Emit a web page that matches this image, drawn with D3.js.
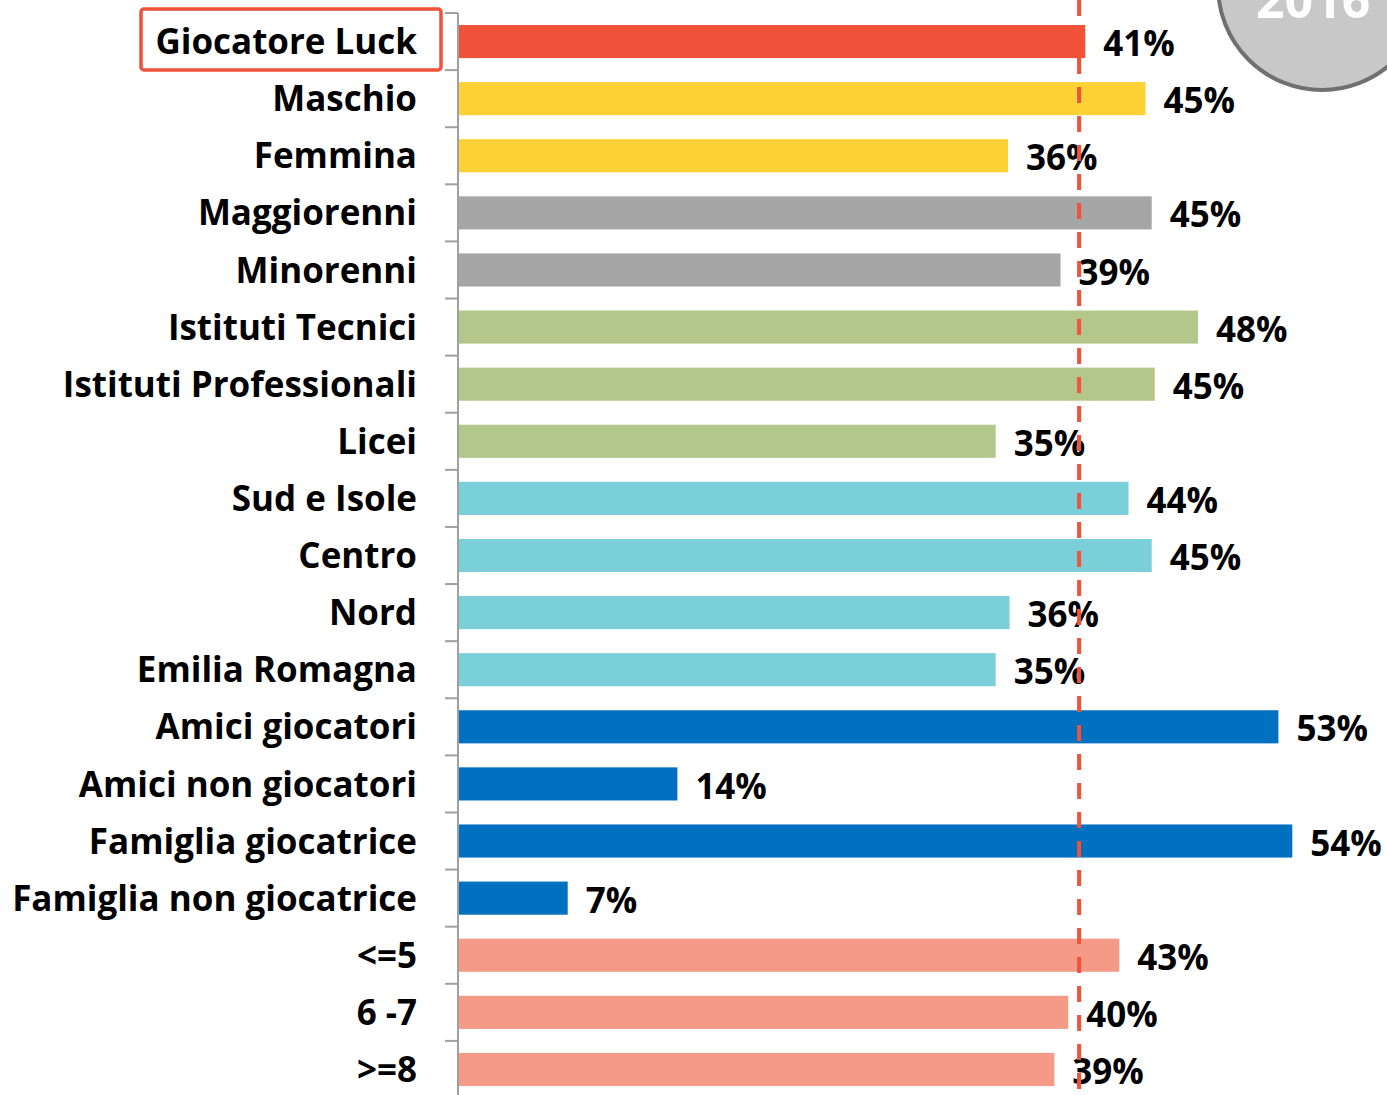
<!DOCTYPE html>
<head>
<meta charset="utf-8">
<style>
body { margin: 0; background: #fff; }
.cat text, .val { font-family: "Open Sans", sans-serif; font-weight: bold; fill: #000; font-variant-ligatures: none; }
</style>
</head>
<body>
<svg width="1387" height="1095"></svg>
<script src="https://cdn.jsdelivr.net/npm/d3@7/dist/d3.min.js"></script>
<script>

var categories = ["Giocatore Luck", "Maschio", "Femmina", "Maggiorenni", "Minorenni",
  "Istituti Tecnici", "Istituti Professionali", "Licei", "Sud e Isole", "Centro", "Nord",
  "Emilia Romagna", "Amici giocatori", "Amici non giocatori", "Famiglia giocatrice",
  "Famiglia non giocatrice", "<=5", "6 -7", ">=8"];
var values = [40.6, 44.5, 35.6, 44.9, 39.0, 47.9, 45.1, 34.8, 43.4, 44.9, 35.7, 34.8,
  53.1, 14.2, 54.0, 7.1, 42.8, 39.5, 38.6];
var labels = ["41%", "45%", "36%", "45%", "39%", "48%", "45%", "35%", "44%", "45%", "36%",
  "35%", "53%", "14%", "54%", "7%", "43%", "40%", "39%"];
var groups = [0, 1, 1, 2, 2, 3, 3, 3, 4, 4, 4, 4, 5, 5, 5, 5, 6, 6, 6];
var colors = ["#f0533a", "#fed136", "#a6a6a6", "#b3c78b", "#7acfd9", "#0070c0", "#f49a86"];
var average = 40.2;
var year = "2016";

var svg = d3.select("svg");

var x = d3.scaleLinear().domain([0, 10]).range([458, 612.5]);
var y = d3.scaleBand().domain(categories).range([13, 1098]).paddingInner(0.42).paddingOuter(0.21);

// badge in the corner
svg.append("circle")
    .attr("cx", 1322).attr("cy", -14).attr("r", 104)
    .attr("fill", "#c8c8c8").attr("stroke", "#707070").attr("stroke-width", 4);
svg.append("text")
    .attr("x", 1256).attr("y", 18)
    .style("font", "bold 50px 'Open Sans', sans-serif").attr("fill", "#fff")
    .text(year);

// bars
svg.selectAll(".bar")
    .data(categories)
  .enter().append("rect")
    .attr("class", "bar")
    .attr("x", x(0) + 1)
    .attr("y", function(d) { return y(d); })
    .attr("height", y.bandwidth())
    .attr("width", function(d, i) { return x(values[i]) - x(0) - 1; })
    .attr("fill", function(d, i) { return colors[groups[i]]; });

// axis with ticks between categories
var step = y.step();
var bounds = d3.range(categories.length + 1).map(function(i) { return 13 + i * step; });
var ax = svg.append("g").attr("class", "axis");
ax.append("line")
    .attr("x1", x(0)).attr("x2", x(0)).attr("y1", 13).attr("y2", 1098)
    .attr("stroke", "#a0a0a0").attr("stroke-width", 2);
ax.selectAll(".tick")
    .data(bounds)
  .enter().append("line")
    .attr("x1", x(0) - 13).attr("x2", x(0))
    .attr("y1", function(d) { return d; }).attr("y2", function(d) { return d; })
    .attr("stroke", "#a0a0a0").attr("stroke-width", 2);

// category labels
var cat = svg.append("g").attr("class", "cat")
  .selectAll("text")
    .data(categories)
  .enter().append("text")
    .attr("x", 417)
    .attr("y", function(d) { return y(d) + y.bandwidth() / 2; })
    .attr("dy", "0.36em")
    .attr("text-anchor", "end")
    .style("font-size", "34px")
    .text(function(d) { return d; });

// fit font so the longest label spans like the original (~405px)
var longest = d3.max(cat.nodes(), function(n) { return n.getComputedTextLength(); });
var fs = 34 * 405 / longest;
cat.style("font-size", fs + "px");

// value labels
svg.selectAll(".val")
    .data(categories)
  .enter().append("text")
    .attr("class", "val")
    .attr("x", function(d, i) { return x(values[i]) + 18; })
    .attr("y", function(d) { return y(d) + y.bandwidth() / 2 + 2; })
    .attr("dy", "0.36em")
    .style("font-size", fs + "px")
    .text(function(d, i) { return labels[i]; });

// average line
svg.append("line")
    .attr("x1", x(average)).attr("x2", x(average))
    .attr("y1", 0).attr("y2", 1095)
    .attr("stroke", "#f0533a").attr("stroke-width", 4)
    .attr("stroke-dasharray", "16,13");

// highlight box
svg.append("rect")
    .attr("x", 141).attr("y", 9).attr("width", 300).attr("height", 61)
    .attr("rx", 3)
    .attr("fill", "none").attr("stroke", "#f0533a").attr("stroke-width", 3.5);

</script>
</body>
